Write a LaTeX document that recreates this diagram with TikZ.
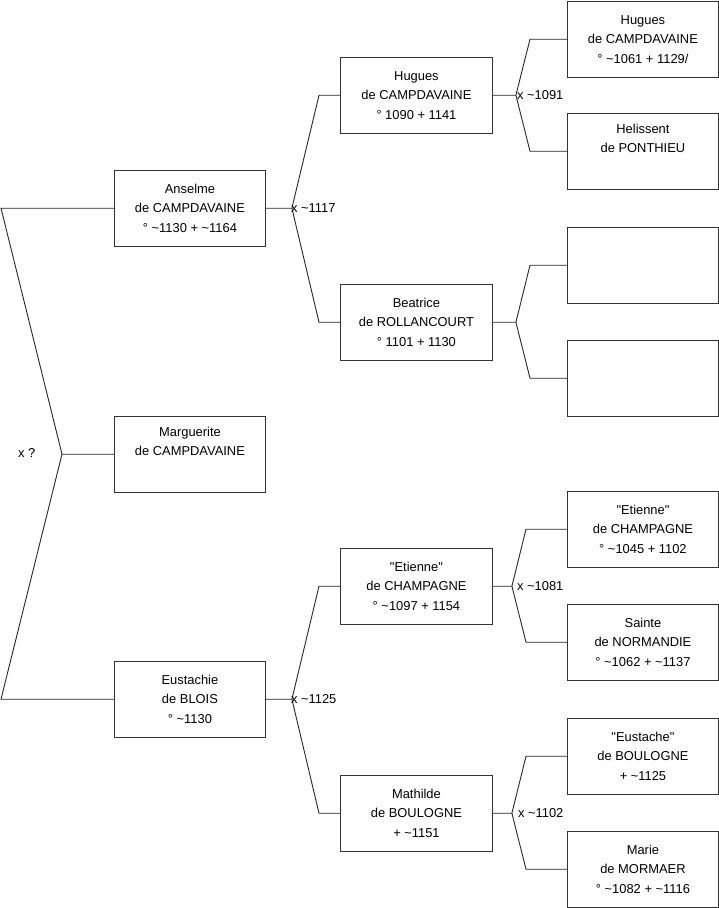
\documentclass[tikz,border=0pt]{standalone}
\usepackage{fontspec}
\setmainfont{Liberation Sans}[Ligatures=TeXOff]
\usetikzlibrary{calc}
\newcommand\ti{\textasciitilde}
\begin{document}
\begin{tikzpicture}[x=1pt,y=-1pt,
  person/.style={draw=black!80, line width=0.9pt, minimum width=151pt, minimum height=75.5pt,
    anchor=north west, align=center, inner sep=0pt,
    font=\fontsize{12.9}{19.5}\selectfont},
  link/.style={draw=black!85, line width=0.9pt},
  lab/.style={anchor=west, inner sep=0pt, font=\fontsize{12.9}{15}\selectfont}]
\useasboundingbox (0,0) rectangle (719,908);

% generation 1
\node[person] (marguerite) at (114,416) {Marguerite\\de CAMPDAVAINE\\\strut};
% generation 2
\node[person] (anselme) at (114,170) {Anselme\\de CAMPDAVAINE\\° \ti1130 + \ti1164};
\node[person] (eustachie) at (114,661) {Eustachie\\de BLOIS\\° \ti1130};
% generation 3
\node[person, minimum width=152pt] (hugues2) at (340,57) {Hugues\\de CAMPDAVAINE\\° 1090 + 1141};
\node[person, minimum width=152pt] (beatrice) at (340,284) {Beatrice\\de ROLLANCOURT\\° 1101 + 1130};
\node[person, minimum width=152pt] (etienne2) at (340,548) {"Etienne"\\de CHAMPAGNE\\° \ti1097 + 1154};
\node[person, minimum width=152pt] (mathilde) at (340,775) {Mathilde\\de BOULOGNE\\+ \ti1151};
% generation 4
\node[person] (hugues3) at (567,1) {Hugues\\de CAMPDAVAINE\\° \ti1061 + 1129/};
\node[person] (helissent) at (567,113) {Helissent\\de PONTHIEU\\\strut};
\node[person] (emptya) at (567,227) {};
\node[person] (emptyb) at (567,340) {};
\node[person] (etienne3) at (567,491) {"Etienne"\\de CHAMPAGNE\\° \ti1045 + 1102};
\node[person] (sainte) at (567,604) {Sainte\\de NORMANDIE\\° \ti1062 + \ti1137};
\node[person] (eustache) at (567,718) {"Eustache"\\de BOULOGNE\\+ \ti1125};
\node[person] (marie) at (567,831) {Marie\\de MORMAER\\° \ti1082 + \ti1116};

% root fork
\coordinate (j0) at ($(marguerite.west)+(-52,0)$);
\draw[link] (marguerite.west) -- (j0) -- ($(anselme.west)+(-113,0)$) -- (anselme.west);
\draw[link] (j0) -- ($(eustachie.west)+(-113,0)$) -- (eustachie.west);
\node[lab] (l0) at (18,453) {x ?};

% Anselme fork
\coordinate (j1) at ($(anselme.east)+(26,0)$);
\draw[link] (anselme.east) -- (j1) -- ($(hugues2.west)+(-21,0)$) -- (hugues2.west);
\draw[link] (j1) -- ($(beatrice.west)+(-21,0)$) -- (beatrice.west);
\node[lab] (l1) at ($(j1)+(-1,0)$) {x \ti1117};

% Eustachie fork
\coordinate (j2) at ($(eustachie.east)+(26,0)$);
\draw[link] (eustachie.east) -- (j2) -- ($(etienne2.west)+(-21,0)$) -- (etienne2.west);
\draw[link] (j2) -- ($(mathilde.west)+(-21,0)$) -- (mathilde.west);
\node[lab] (l2) at ($(j2)+(-1,0)$) {x \ti1125};

% Hugues fork
\coordinate (j3) at ($(hugues2.east)+(23,0)$);
\draw[link] (hugues2.east) -- (j3) -- ($(hugues3.west)+(-37,0)$) -- (hugues3.west);
\draw[link] (j3) -- ($(helissent.west)+(-37,0)$) -- (helissent.west);
\node[lab] (l3) at ($(j3)+(1,0)$) {x \ti1091};

% Beatrice fork
\coordinate (j4) at ($(beatrice.east)+(23,0)$);
\draw[link] (beatrice.east) -- (j4) -- ($(emptya.west)+(-37,0)$) -- (emptya.west);
\draw[link] (j4) -- ($(emptyb.west)+(-37,0)$) -- (emptyb.west);

% Etienne fork
\coordinate (j5) at ($(etienne2.east)+(19,0)$);
\draw[link] (etienne2.east) -- (j5) -- ($(etienne3.west)+(-41,0)$) -- (etienne3.west);
\draw[link] (j5) -- ($(sainte.west)+(-41,0)$) -- (sainte.west);
\node[lab] (l5) at ($(j5)+(5,0)$) {x \ti1081};

% Mathilde fork
\coordinate (j6) at ($(mathilde.east)+(19,0)$);
\draw[link] (mathilde.east) -- (j6) -- ($(eustache.west)+(-41,0)$) -- (eustache.west);
\draw[link] (j6) -- ($(marie.west)+(-41,0)$) -- (marie.west);
\node[lab] (l6) at ($(j6)+(6,0)$) {x \ti1102};
\end{tikzpicture}
\end{document}
